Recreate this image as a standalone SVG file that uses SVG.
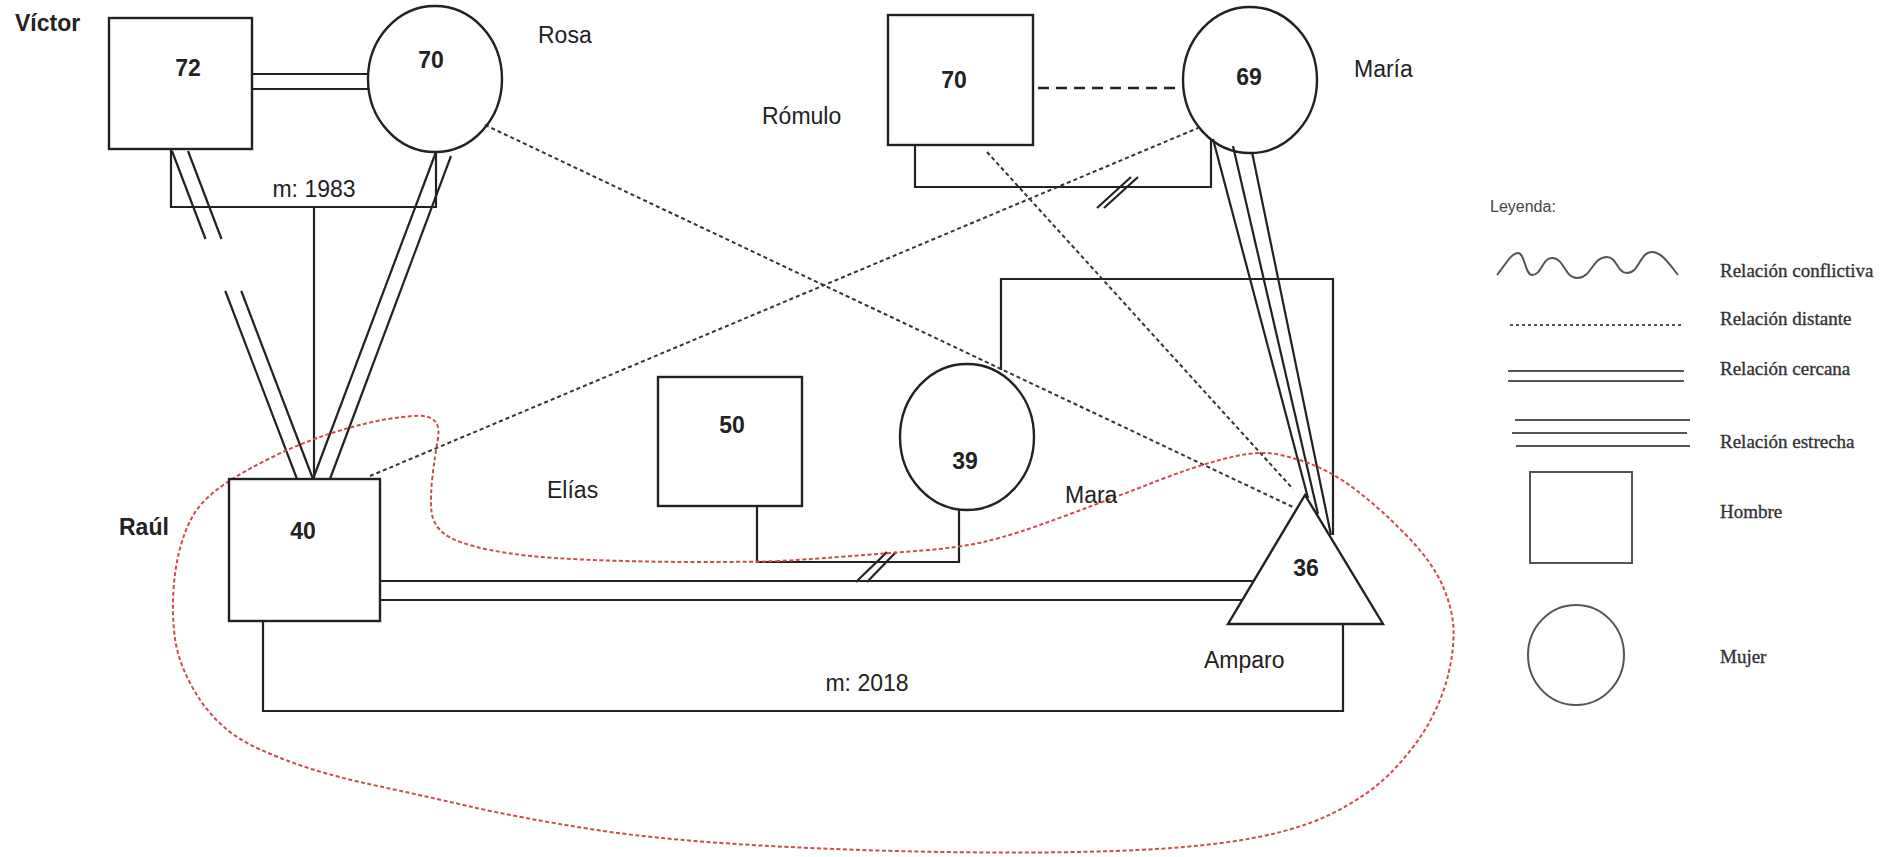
<svg xmlns="http://www.w3.org/2000/svg" width="1903" height="857" viewBox="0 0 1903 857">
<style>
.ln{fill:none;stroke:#222;stroke-width:2.2}
.sh{fill:none;stroke:#222;stroke-width:2.4}
.ds{fill:none;stroke:#333;stroke-width:2;stroke-dasharray:4 3}
.dl{fill:none;stroke:#222;stroke-width:2.4;stroke-dasharray:11 7}
.red{fill:none;stroke:#d24a4a;stroke-width:2;stroke-dasharray:4 2.5}
.lbl{font-family:"Liberation Sans",Arial,sans-serif;font-size:23px;fill:#222}
.b{font-weight:bold}
.num{font-family:"Liberation Sans",Arial,sans-serif;font-size:23px;font-weight:bold;fill:#222;text-anchor:middle}
.lg{fill:none;stroke:#555;stroke-width:2}
.lgt{font-family:"Liberation Serif","Times New Roman",serif;font-size:19px;fill:#333;stroke:#333;stroke-width:0.35}
</style>
<rect width="1903" height="857" fill="#fff"/>

<g id="connectors">
  <line class="ln" x1="252" y1="74" x2="369" y2="74"/>
  <line class="ln" x1="252" y1="89" x2="369" y2="89"/>
  <path class="ln" d="M171,149 V207 H436 V151"/>
  <line class="ln" x1="314" y1="207" x2="314" y2="479"/>
  <line class="ln" x1="172" y1="151" x2="205.5" y2="239"/>
  <line class="ln" x1="225.3" y1="291" x2="297" y2="479"/>
  <line class="ln" x1="188" y1="151" x2="221.5" y2="239"/>
  <line class="ln" x1="241.3" y1="291" x2="313" y2="479"/>
  <line class="ln" x1="436" y1="152" x2="313" y2="479"/>
  <line class="ln" x1="451" y1="156" x2="330" y2="479"/>
  <line class="dl" x1="1038" y1="88" x2="1182" y2="88"/>
  <path class="ln" d="M915,145 V187 H1211 V139"/>
  <line class="ln" x1="1097" y1="208" x2="1131" y2="177" stroke-width="1.6"/>
  <line class="ln" x1="1104" y1="208" x2="1138" y2="177" stroke-width="1.6"/>
  <line class="ln" x1="1213" y1="139" x2="1308" y2="498"/>
  <line class="ln" x1="1233" y1="146" x2="1318" y2="514"/>
  <line class="ln" x1="1252" y1="152" x2="1331" y2="535"/>
  <path class="ln" d="M1001,370 V279 H1333 V535"/>
  <line class="ds" x1="485" y1="125" x2="1295" y2="508"/>
  <line class="ds" x1="370" y1="476" x2="1198" y2="128"/>
  <line class="ds" x1="987" y1="152" x2="1293" y2="489"/>
  <path class="ln" d="M757,506 V562 H959 V509"/>
  <line class="ln" x1="856" y1="582" x2="887" y2="552" stroke-width="1.6"/>
  <line class="ln" x1="867" y1="582" x2="896" y2="552" stroke-width="1.6"/>
  <line class="ln" x1="380" y1="581" x2="1253" y2="581"/>
  <line class="ln" x1="380" y1="600" x2="1242" y2="600"/>
  <path class="ln" d="M263,621 V711 H1343 V624"/>
  <path class="red" d="M779,561 Q758,562 698.5,562 Q639,562 581.5,559.5 Q524,557 490,550 Q456,543 444.5,534 Q433,525 431.5,511.5 Q430,498 432.5,476.5 Q435,455 437.5,441.5 Q440,428 436,422.5 Q432,417 423.5,416 Q415,415 391,418.5 Q367,422 333.5,432.5 Q300,443 266.5,460 Q233,477 216.5,490 Q200,503 192.5,516.5 Q185,530 180,548.5 Q175,567 173.5,590 Q172,613 174.5,635 Q177,657 188.5,680 Q200,703 216.5,720 Q233,737 258,748.5 Q283,760 311.5,769 Q340,778 380,786.5 Q420,795 470,806.5 Q520,818 593.5,829.5 Q667,841 788.5,847 Q910,853 1031.5,852.5 Q1153,852 1221.5,843 Q1290,834 1330,814.5 Q1370,795 1393.5,770 Q1417,745 1430,721 Q1443,697 1448.5,673.5 Q1454,650 1453.5,630 Q1453,610 1443,586.5 Q1433,563 1408,537 Q1383,511 1358,491.5 Q1333,472 1308,463 Q1283,454 1266.5,453 Q1250,452 1221.5,459.5 Q1193,467 1157,481 Q1121,495 1067.5,515 Q1014,535 985.5,541.5 Q957,548 923,550.5 Q889,553 844.5,556.5 Q800,560 779,561 Z"/>
</g>

<g id="victor">
  <rect class="sh" x="109" y="18" width="143" height="131"/>
  <text class="num" x="188" y="76">72</text>
  <text class="lbl b" x="15" y="31">Víctor</text>
</g>
<g id="rosa">
  <ellipse class="sh" cx="435" cy="79" rx="67" ry="73"/>
  <text class="num" x="431" y="68">70</text>
  <text class="lbl" x="538" y="43">Rosa</text>
</g>
<g id="marriage1983-label">
  <text class="lbl" x="314" y="197" text-anchor="middle">m: 1983</text>
</g>
<g id="romulo">
  <rect class="sh" x="888" y="15" width="145" height="130"/>
  <text class="num" x="954" y="88">70</text>
  <text class="lbl" x="762" y="124">Rómulo</text>
</g>
<g id="maria">
  <ellipse class="sh" cx="1250" cy="80" rx="67" ry="73"/>
  <text class="num" x="1249" y="85">69</text>
  <text class="lbl" x="1354" y="77">María</text>
</g>
<g id="raul">
  <rect class="sh" x="229" y="479" width="151" height="142"/>
  <text class="num" x="303" y="539">40</text>
  <text class="lbl b" x="119" y="535">Raúl</text>
</g>
<g id="elias">
  <rect class="sh" x="658" y="377" width="144" height="129"/>
  <text class="num" x="732" y="433">50</text>
  <text class="lbl" x="547" y="498">Elías</text>
</g>
<g id="mara">
  <ellipse class="sh" cx="967" cy="437" rx="67" ry="73"/>
  <text class="num" x="965" y="469">39</text>
  <text class="lbl" x="1065" y="503">Mara</text>
</g>
<g id="amparo">
  <polygon class="sh" points="1305,495 1228,624 1383,624"/>
  <text class="num" x="1306" y="576">36</text>
  <text class="lbl" x="1204" y="668" font-size="24">Amparo</text>
</g>
<g id="marriage2018-label">
  <text class="lbl" x="867" y="691" text-anchor="middle">m: 2018</text>
</g>

<g id="legend">
  <text x="1490" y="212" font-family="Liberation Sans, Arial, sans-serif" font-size="16" fill="#444">Leyenda:</text>
  <path class="lg" d="M1497,275 C1507,262 1512,253 1518,253 C1525,253 1525,275 1532,275 C1542,275 1542,258 1552,258 C1564.5,258 1564.5,278 1577,278 C1592,278 1592,257 1607,257 C1617,257 1617,273 1627,273 C1639.5,273 1639.5,252 1652,252 C1662,252 1670,265 1678,275"/>
  <text class="lgt" x="1720" y="277">Relación conflictiva</text>
  <line class="lg" x1="1510" y1="325" x2="1684" y2="325" stroke-width="1.5" stroke-dasharray="3 3"/>
  <text class="lgt" x="1720" y="325">Relación distante</text>
  <line class="lg" x1="1508" y1="371" x2="1684" y2="371"/>
  <line class="lg" x1="1508" y1="381" x2="1684" y2="381"/>
  <text class="lgt" x="1720" y="375">Relación cercana</text>
  <line class="lg" x1="1515" y1="420" x2="1690" y2="420"/>
  <line class="lg" x1="1512" y1="433" x2="1687" y2="433"/>
  <line class="lg" x1="1516" y1="446" x2="1690" y2="446"/>
  <text class="lgt" x="1720" y="448">Relación estrecha</text>
  <rect class="lg" x="1530" y="472" width="102" height="91"/>
  <text class="lgt" x="1720" y="518">Hombre</text>
  <ellipse class="lg" cx="1576" cy="655" rx="48" ry="50"/>
  <text class="lgt" x="1720" y="663">Mujer</text>
</g>
</svg>
